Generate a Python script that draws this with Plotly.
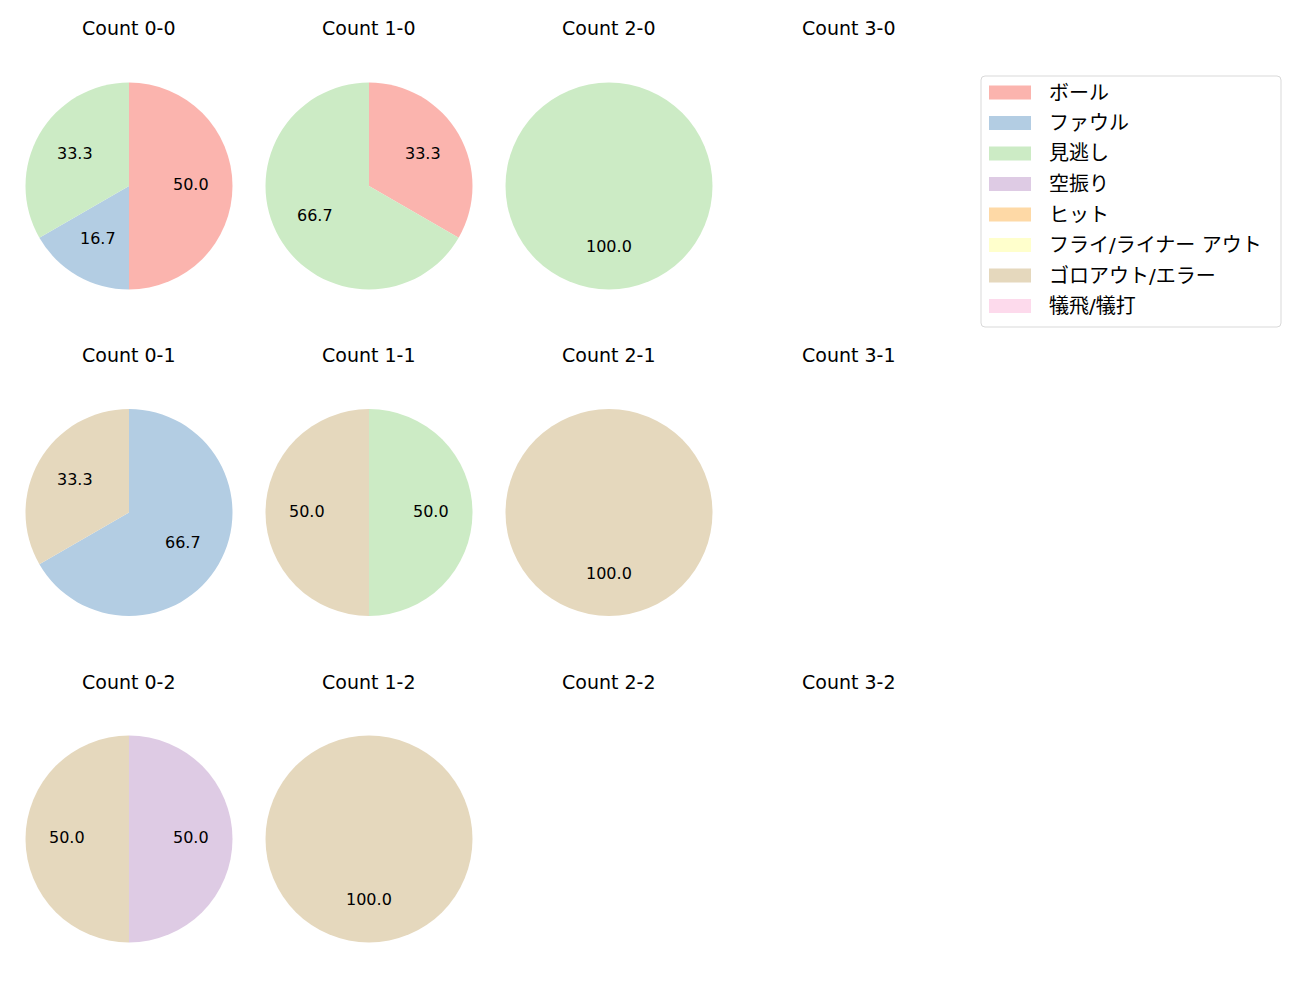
import math
import plotly.graph_objects as go

categories = ["ボール", "ファウル", "見逃し", "空振り", "ヒット", "フライ/ライナー アウト", "ゴロアウト/エラー", "犠飛/犠打"]
colors = ["#fbb4ae", "#b3cde3", "#ccebc5", "#decbe4", "#fed9a6", "#ffffcc", "#e5d8bd", "#fddaec"]

titles = [
    ["Count 0-0", "Count 1-0", "Count 2-0", "Count 3-0"],
    ["Count 0-1", "Count 1-1", "Count 2-1", "Count 3-1"],
    ["Count 0-2", "Count 1-2", "Count 2-2", "Count 3-2"],
]

count_0_0 = [3, 1, 2, 0, 0, 0, 0, 0]
count_1_0 = [1, 0, 2, 0, 0, 0, 0, 0]
count_2_0 = [0, 0, 1, 0, 0, 0, 0, 0]
count_3_0 = []
count_0_1 = [0, 2, 0, 0, 0, 0, 1, 0]
count_1_1 = [0, 0, 1, 0, 0, 0, 1, 0]
count_2_1 = [0, 0, 0, 0, 0, 0, 1, 0]
count_3_1 = []
count_0_2 = [0, 0, 0, 1, 0, 0, 1, 0]
count_1_2 = [0, 0, 0, 0, 0, 0, 1, 0]
count_2_2 = []
count_3_2 = []

grid = [
    [count_0_0, count_1_0, count_2_0, count_3_0],
    [count_0_1, count_1_1, count_2_1, count_3_1],
    [count_0_2, count_1_2, count_2_2, count_3_2],
]

W, H = 1300, 1000
LATIN = "DejaVu Sans, Noto Sans CJK JP"
col_cx = [129, 369, 609, 849]
row_cy = [186, 512.5, 839]
R = 103.5
title_offset = 157.5

fig = go.Figure()
annotations = []
shapes = []

for r in range(3):
    for c in range(4):
        vals = grid[r][c]
        cx, cy = col_cx[c], row_cy[r]
        annotations.append(dict(
            x=cx / W, y=1 - (cy - title_offset) / H, xref="paper", yref="paper",
            text=titles[r][c], showarrow=False, xanchor="center", yanchor="middle",
            font=dict(family=LATIN, size=19, color="#000000")))
        if not vals or sum(vals) == 0:
            continue
        fig.add_trace(go.Pie(
            labels=categories, values=vals, sort=False, direction="clockwise",
            rotation=0, textinfo="none", showlegend=False,
            marker=dict(colors=colors, line=dict(width=0)),
            domain=dict(x=[(cx - R) / W, (cx + R) / W],
                        y=[1 - (cy + R) / H, 1 - (cy - R) / H]),
        ))
        total = sum(vals)
        cum = 0.0
        for v in vals:
            if v == 0:
                continue
            f = v / total
            theta = math.radians(90 - 360 * (cum + f / 2))
            cum += f
            px = cx + 0.6 * R * math.cos(theta)
            py = cy - 0.6 * R * math.sin(theta) - 1.5
            annotations.append(dict(
                x=px / W, y=1 - py / H, xref="paper", yref="paper",
                text=f"{100 * f:.1f}", showarrow=False, xanchor="center", yanchor="middle",
                font=dict(family=LATIN, size=16, color="#000000")))

# legend box (rounded)
lx0, ly0, lx1, ly1 = 981, 76, 1281, 327
rad = 4


def px2x(v):
    return v / W


def px2y(v):
    return 1 - v / H


path = (
    f"M {px2x(lx0 + rad)},{px2y(ly0)} L {px2x(lx1 - rad)},{px2y(ly0)} "
    f"Q {px2x(lx1)},{px2y(ly0)} {px2x(lx1)},{px2y(ly0 + rad)} "
    f"L {px2x(lx1)},{px2y(ly1 - rad)} Q {px2x(lx1)},{px2y(ly1)} {px2x(lx1 - rad)},{px2y(ly1)} "
    f"L {px2x(lx0 + rad)},{px2y(ly1)} Q {px2x(lx0)},{px2y(ly1)} {px2x(lx0)},{px2y(ly1 - rad)} "
    f"L {px2x(lx0)},{px2y(ly0 + rad)} Q {px2x(lx0)},{px2y(ly0)} {px2x(lx0 + rad)},{px2y(ly0)} Z"
)
shapes.append(dict(type="path", xref="paper", yref="paper", path=path,
                   line=dict(color="#d9d9d9", width=1), fillcolor="rgba(255,255,255,0.8)"))
item_y0 = 92.5
item_dy = 30.5
for i, (cat, col) in enumerate(zip(categories, colors)):
    yc = item_y0 + i * item_dy
    shapes.append(dict(type="rect", xref="paper", yref="paper",
                       x0=px2x(989), x1=px2x(1031), y0=px2y(yc + 7), y1=px2y(yc - 7),
                       line=dict(width=0), fillcolor=col))
    annotations.append(dict(
        x=px2x(1047), y=px2y(yc), xref="paper", yref="paper",
        text=cat, showarrow=False, xanchor="left", yanchor="middle",
        font=dict(family=LATIN, size=20, color="#000000")))

fig.update_layout(
    width=W, height=H,
    margin=dict(l=0, r=0, t=0, b=0),
    paper_bgcolor="white", plot_bgcolor="white",
    annotations=annotations, shapes=shapes,
    showlegend=False,
    font=dict(family=LATIN),
)

fig.write_html("out.html")
